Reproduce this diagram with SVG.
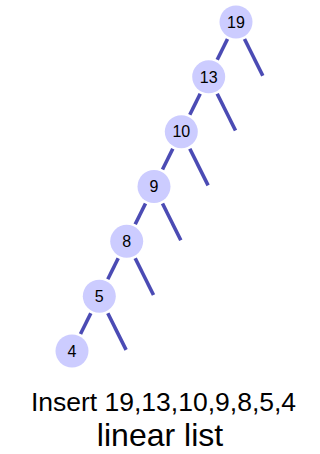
<svg xmlns="http://www.w3.org/2000/svg" width="320" height="454" viewBox="0 0 320 454">
<style>
.n{fill:#ccccff;}
.t{font-family:"Liberation Sans",Arial,sans-serif;font-size:16px;fill:#000;text-anchor:middle;}
.e{stroke:#4b4bb4;stroke-width:3.6;fill:none;}
.cap{font-family:"Liberation Sans",Arial,sans-serif;fill:#000;text-anchor:middle;}
</style>
<rect width="320" height="454" fill="#fff"/>
<g id="edges">
<line class="e" x1="244.5" y1="39" x2="262.8" y2="75.7"/>
<line class="e" x1="227.5" y1="39" x2="217.2" y2="59.8"/>
<line class="e" x1="217.2" y1="93.8" x2="235.5" y2="130.5"/>
<line class="e" x1="200.2" y1="93.8" x2="189.8" y2="114.7"/>
<line class="e" x1="189.8" y1="148.7" x2="208.1" y2="185.4"/>
<line class="e" x1="172.8" y1="148.7" x2="162.5" y2="169.5"/>
<line class="e" x1="162.5" y1="203.5" x2="180.8" y2="240.2"/>
<line class="e" x1="145.5" y1="203.5" x2="135.2" y2="224.3"/>
<line class="e" x1="135.2" y1="258.3" x2="153.5" y2="295"/>
<line class="e" x1="118.2" y1="258.3" x2="107.8" y2="279.2"/>
<line class="e" x1="107.8" y1="313.2" x2="126.1" y2="349.9"/>
<line class="e" x1="90.8" y1="313.2" x2="80.5" y2="334"/>
</g>
<g id="n19"><circle class="n" cx="236" cy="22" r="16.5"/><text class="t" x="236" y="27.7">19</text></g>
<g id="n13"><circle class="n" cx="208.7" cy="76.8" r="16.5"/><text class="t" x="208.7" y="82.5">13</text></g>
<g id="n10"><circle class="n" cx="181.3" cy="131.7" r="16.5"/><text class="t" x="181.3" y="137.4">10</text></g>
<g id="n9"><circle class="n" cx="154" cy="186.5" r="16.5"/><text class="t" x="154" y="192.2">9</text></g>
<g id="n8"><circle class="n" cx="126.7" cy="241.3" r="16.5"/><text class="t" x="126.7" y="247">8</text></g>
<g id="n5"><circle class="n" cx="99.3" cy="296.2" r="16.5"/><text class="t" x="99.3" y="301.9">5</text></g>
<g id="n4"><circle class="n" cx="72" cy="351" r="16.5"/><text class="t" x="72" y="356.7">4</text></g>
<g id="caption">
<text class="cap" x="163.5" y="411" font-size="26.5">Insert 19,13,10,9,8,5,4</text>
<text class="cap" x="160" y="446" font-size="32">linear list</text>
</g>
</svg>
